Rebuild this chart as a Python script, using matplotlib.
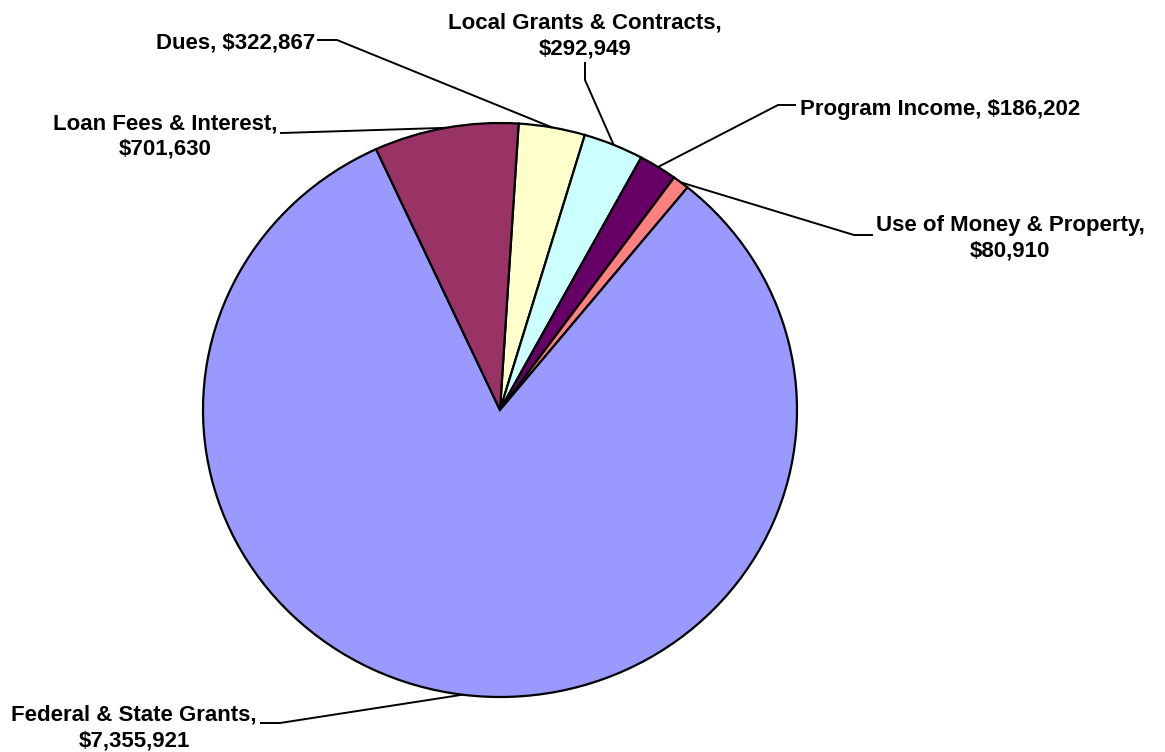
import numpy as np
import matplotlib.pyplot as plt

plt.rcParams['font.family'] = ['Liberation Sans', 'DejaVu Sans']

# Data (drawing order, clockwise from near 12 o'clock)
categories = ['Dues', 'Local Grants & Contracts', 'Program Income',
              'Use of Money & Property', 'Federal & State Grants',
              'Loan Fees & Interest']
amounts = [322867, 292949, 186202, 80910, 7355921, 701630]
colors = ['#FFFFCC', '#CCFFFF', '#660066', '#FF8080', '#9999FF', '#993366']
# whether the amount goes on a second line
two_lines = [False, True, False, True, True, True]

W, H = 1165, 752
fig = plt.figure(figsize=(W / 100, H / 100), dpi=100)

# pie axes placed where the (slightly elliptical) pie sits
cx, cy, rx, ry = 500, 410, 297, 287
ax = fig.add_axes([(cx - rx) / W, (H - cy - ry) / H, 2 * rx / W, 2 * ry / H])
wedges, _ = ax.pie(amounts, colors=colors, startangle=86.4, counterclock=False,
                   radius=1.0,
                   wedgeprops=dict(edgecolor='black', linewidth=1.6))
ax.set_aspect('auto')
ax.set_xlim(-1, 1)
ax.set_ylim(-1, 1)
ax.axis('off')

# overlay in pixel coordinates for labels and leader lines
ov = fig.add_axes([0, 0, 1, 1], zorder=5)
ov.set_xlim(0, W)
ov.set_ylim(H, 0)
ov.axis('off')
ov.patch.set_alpha(0)

# label layout: (x, last-line baseline y, ha, leader points near the text)
layout = [
    (315, 48, 'right', [(317, 40), (337, 40)]),
    (585, 54, 'center', [(585, 62), (585, 80)]),
    (800, 115, 'left', [(796, 105), (778, 105)]),
    (1010, 257, 'center', [(873, 235), (854, 235)]),
    (134, 746, 'center', [(260, 723), (280, 723)]),
    (165, 155, 'center', [(280, 133), (282, 133)]),
]

to_px = ax.transData + ov.transData.inverted()

for w, name, amt, two, (tx, ty, ha, pts) in zip(wedges, categories, amounts,
                                               two_lines, layout):
    sep = ',\n' if two else ', '
    ov.text(tx, ty, f'{name}{sep}${amt:,}', ha=ha, va='baseline',
            multialignment='center', fontsize=16, fontweight='bold',
            linespacing=1.3)
    mid = np.deg2rad((w.theta1 + w.theta2) / 2)
    ex, ey = to_px.transform((np.cos(mid), np.sin(mid)))
    xs = [p[0] for p in pts] + [ex]
    ys = [p[1] for p in pts] + [ey]
    ov.plot(xs, ys, color='black', linewidth=1.4, solid_capstyle='butt')

fig.savefig('out.png', dpi=100)
